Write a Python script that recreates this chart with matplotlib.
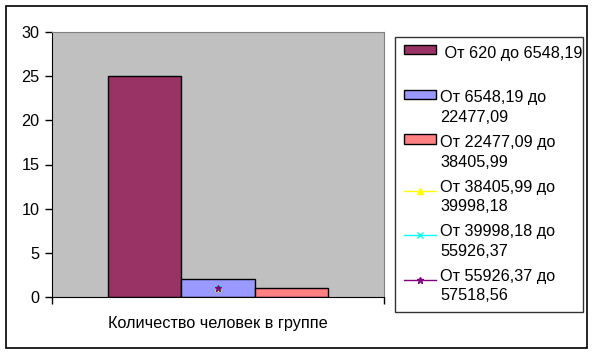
import numpy as np
import matplotlib.pyplot as plt
from matplotlib.patches import Rectangle
from matplotlib.legend_handler import HandlerPatch, HandlerLine2D

plt.rcParams['font.family'] = ['Liberation Sans', 'DejaVu Sans']

category = 'Количество человек в группе'
bar_labels = [' От 620 до 6548,19\n ', 'От 6548,19 до\n22477,09', 'От 22477,09 до\n38405,99']
bar_values = [25, 2, 1]
bar_colors = ['#993366', '#9999FF', '#FF8080']

line_labels = ['От 38405,99 до\n39998,18', 'От 39998,18 до\n55926,37', 'От 55926,37 до\n57518,56']
line_values = [1, 1, 1]
line_colors = ['#FFFF00', '#00FFFF', '#800080']
line_markers = ['^', 'x', '*']

fs = 11.7

fig = plt.figure(figsize=(5.96, 3.55), dpi=100)
fig.patches.append(Rectangle((6/596, 7/355), 581/596, 342/355, transform=fig.transFigure,
                             fill=False, edgecolor='black', linewidth=1.2))

ax = fig.add_axes([52/596, 58/355, 332/596, 265/355])
ax.set_facecolor('#C0C0C0')

w = 0.22
x = (np.arange(len(bar_values)) - 1) * w
handles = []
for xi, v, c, lab in zip(x, bar_values, bar_colors, bar_labels):
    bc = ax.bar(xi, v, width=w, color=c, edgecolor='black', linewidth=1.0, label=lab)
    handles.append(bc.patches[0])

for v, c, m, lab in zip(line_values, line_colors, line_markers, line_labels):
    h, = ax.plot([0], [v], color=c, marker=m, markersize=5, linewidth=1,
                 markeredgecolor=c, markerfacecolor=c, label=lab)
    handles.append(h)

ax.set_xlim(-0.5, 0.5)
ax.set_ylim(0, 30)
ax.set_yticks(np.arange(0, 31, 5))
ax.tick_params(axis='y', direction='out', length=5, width=1, labelsize=fs, pad=4)
ax.set_xticks([0])
ax.set_xticklabels([category], fontsize=fs)
ax.tick_params(axis='x', which='major', length=0, pad=14)
ax.set_xticks([-0.5, 0.5], minor=True)
ax.tick_params(axis='x', which='minor', direction='out', length=5, width=1)

for s in ['top', 'right']:
    ax.spines[s].set_color('#808080')
for s in ['left', 'bottom']:
    ax.spines[s].set_color('black')


class UpPatch(HandlerPatch):
    def adjust_drawing_area(self, legend, orig_handle, xdescent, ydescent, width, height, fontsize):
        return xdescent, ydescent - 0.65 * fontsize * 1.3, width, height


class UpLine(HandlerLine2D):
    def adjust_drawing_area(self, legend, orig_handle, xdescent, ydescent, width, height, fontsize):
        return xdescent, ydescent - 0.65 * fontsize * 1.3, width, height


hmap = {}
for h in handles[:3]:
    hmap[h] = UpPatch()
for h in handles[3:]:
    hmap[h] = UpLine(numpoints=1)

leg = fig.legend(handles=handles, labels=bar_labels + line_labels, handler_map=hmap,
                 loc='upper left', bbox_to_anchor=(395/596, 41/355, 188/596, 277/355),
                 mode='expand',
                 fontsize=fs, frameon=True, fancybox=False, edgecolor='black',
                 handlelength=2.0, handleheight=0.5, handletextpad=0.25,
                 labelspacing=0.6, borderpad=0.55, borderaxespad=0)
leg.get_frame().set_linewidth(1.0)
for t in leg.get_texts():
    t.set_linespacing(1.4)

fig.savefig('out.png', dpi=100, facecolor='white')
